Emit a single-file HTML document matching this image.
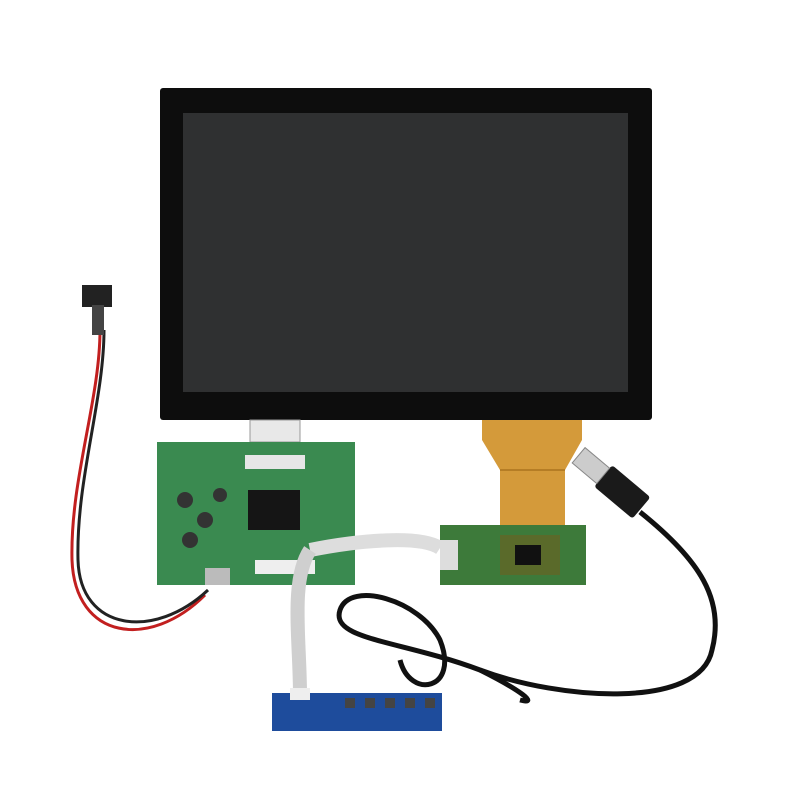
<!DOCTYPE html>
<html><head><meta charset="utf-8"><style>
html,body{margin:0;padding:0;background:#fff;}
svg{display:block;}
</style></head><body>
<svg width="800" height="800" viewBox="0 0 800 800" xmlns="http://www.w3.org/2000/svg">
<rect width="800" height="800" fill="#fff"/>
<path d="M482 418 L582 418 L582 440 L565 470 L565 540 L500 540 L500 470 L482 440 Z" fill="#d49a3a"/>
<path d="M500 470 L565 470" stroke="#b57d25" stroke-width="2"/>
<rect x="160" y="88" width="492" height="332" rx="3" fill="#0d0d0d"/>
<rect x="183" y="113" width="445" height="279" fill="#2f3031"/>
<rect x="250" y="420" width="50" height="22" fill="#e8e8e8" stroke="#999"/>
<rect x="440" y="525" width="146" height="60" fill="#3d7a3a"/>
<rect x="500" y="535" width="60" height="40" fill="#5a6a2a"/>
<rect x="515" y="545" width="26" height="20" fill="#111"/>
<rect x="440" y="540" width="18" height="30" fill="#ddd"/>
<path d="M100 330 C100 400 70 480 72 560 C75 640 150 650 205 595" stroke="#c21f1f" stroke-width="3" fill="none"/>
<path d="M104 330 C104 400 76 480 78 560 C80 632 155 640 208 590" stroke="#222" stroke-width="3" fill="none"/>
<rect x="82" y="285" width="30" height="22" fill="#222"/>
<rect x="92" y="305" width="12" height="30" fill="#444"/>
<rect x="157" y="442" width="198" height="143" fill="#3a8a50"/>
<rect x="248" y="490" width="52" height="40" fill="#151515"/>
<rect x="245" y="455" width="60" height="14" fill="#e6e6e6"/>
<circle cx="185" cy="500" r="8" fill="#333"/><circle cx="205" cy="520" r="8" fill="#333"/>
<circle cx="190" cy="540" r="8" fill="#333"/><circle cx="220" cy="495" r="7" fill="#333"/>
<rect x="205" y="568" width="25" height="17" fill="#bbb"/>
<rect x="255" y="560" width="60" height="14" fill="#eee"/>
<path d="M310 550 C360 540 420 535 440 548" stroke="#ddd" stroke-width="14" fill="none"/>
<path d="M310 550 C290 580 300 640 300 695" stroke="#cfcfcf" stroke-width="14" fill="none"/>
<path d="M640 512 C700 560 725 600 712 650 C700 710 560 700 480 670 C400 640 330 640 340 610 C350 580 420 600 440 640 C460 690 410 700 400 660" stroke="#111" stroke-width="5" fill="none"/>
<path d="M480 670 C520 690 540 705 520 700" stroke="#111" stroke-width="5" fill="none"/>
<g transform="rotate(40 620 490)">
<rect x="598" y="476" width="50" height="28" rx="3" fill="#1a1a1a"/>
<rect x="566" y="480" width="32" height="20" fill="#ccc" stroke="#888"/>
</g>
<rect x="272" y="693" width="170" height="38" fill="#1e4c9c"/>
<rect x="290" y="688" width="20" height="12" fill="#eee"/>
<g fill="#444"><rect x="345" y="698" width="10" height="10"/><rect x="365" y="698" width="10" height="10"/><rect x="385" y="698" width="10" height="10"/><rect x="405" y="698" width="10" height="10"/><rect x="425" y="698" width="10" height="10"/></g>
</svg>
</body></html>
